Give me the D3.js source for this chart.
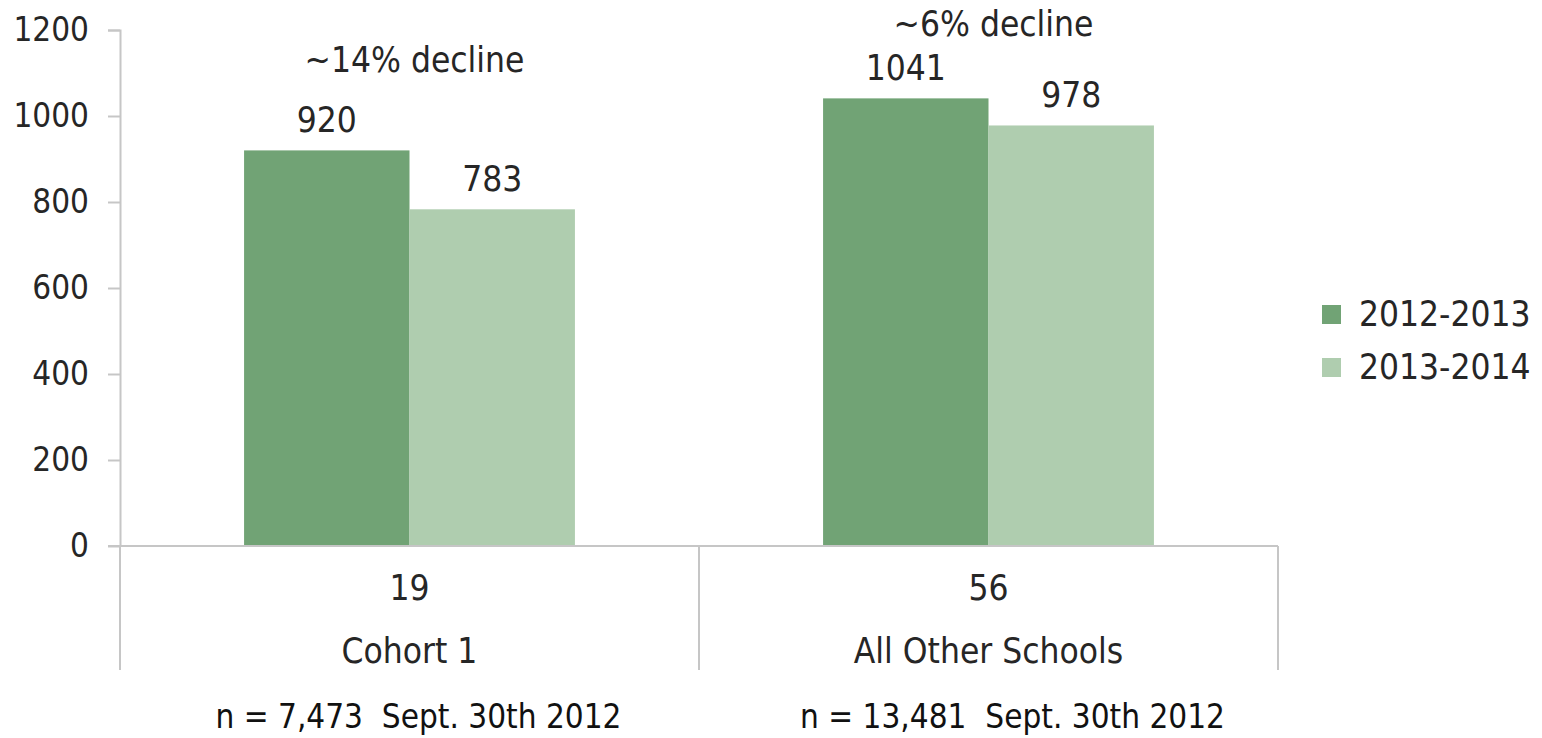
<!DOCTYPE html>
<html>
<head>
<meta charset="utf-8">
<script src="https://cdn.jsdelivr.net/npm/d3@7"></script>
<style>
	body { margin: 0; background: #fff; }
	svg { display: block; }
	.axis path, .axis line { stroke: #c6c6c6; stroke-width: 2; }
	.axis text { font-family: "DejaVu Sans Condensed", "DejaVu Sans", sans-serif; font-size: 33px; fill: #262626; }
	.lbl { font-family: "DejaVu Sans Condensed", "DejaVu Sans", sans-serif; font-size: 35px; fill: #262626; }
	.note { font-family: "DejaVu Sans Condensed", "DejaVu Sans", sans-serif; font-size: 33px; fill: #111; }
</style>
</head>
<body>
<div id="chart"></div>
<script>
const groups = ["Cohort 1", "All Other Schools"];
const groupCounts = ["19", "56"];
const groupNotes = ["n = 7,473  Sept. 30th 2012", "n = 13,481  Sept. 30th 2012"];
const series = ["2012-2013", "2013-2014"];
const values2012 = [920, 1041];
const values2013 = [783, 978];
const annotations = ["~14% decline", "~6% decline"];
const yTicks = [0, 200, 400, 600, 800, 1000, 1200];
const colors = ["#71a375", "#afcdaf"];

const margin = {top: 30, right: 264, bottom: 192, left: 120},
	width = 1542 - margin.left - margin.right,
	height = 738 - margin.top - margin.bottom;

const data = groups.map((g, i) => ({
	group: g,
	count: groupCounts[i],
	note: groupNotes[i],
	note2: annotations[i],
	values: [values2012[i], values2013[i]]
}));

const svg = d3.select("#chart")
	.append("svg")
	.attr("width", width + margin.left + margin.right)
	.attr("height", height + margin.top + margin.bottom)
	.append("g")
	.attr("transform", "translate(" + margin.left + "," + margin.top + ")");

const x0 = d3.scaleBand()
	.domain(groups)
	.range([0, width]);

const x1 = d3.scaleBand()
	.domain(series)
	.range([0, x0.bandwidth()])
	.paddingOuter(0.75);

const y = d3.scaleLinear()
	.domain([0, 1200])
	.range([height, 0]);

const yAxis = d3.axisLeft(y)
	.tickValues(yTicks)
	.tickFormat(d3.format("d"))
	.tickSize(12)
	.tickPadding(19);

svg.append("g")
	.attr("class", "axis")
	.call(yAxis)
	.call(g => g.select(".domain").attr("d", "M-12,0.5H0.5V" + height));

// bars
const grp = svg.selectAll(".grp")
	.data(data)
	.enter().append("g")
	.attr("class", "grp")
	.attr("transform", d => "translate(" + x0(d.group) + ",0)");

grp.selectAll("rect")
	.data(d => d.values.map((v, i) => ({s: series[i], v: v, i: i})))
	.enter().append("rect")
	.attr("x", d => x1(d.s))
	.attr("y", d => y(d.v))
	.attr("width", x1.bandwidth())
	.attr("height", d => height - y(d.v))
	.style("fill", d => colors[d.i]);

grp.selectAll(".val")
	.data(d => d.values.map((v, i) => ({s: series[i], v: v})))
	.enter().append("text")
	.attr("class", "lbl")
	.attr("x", d => x1(d.s) + x1.bandwidth() / 2)
	.attr("y", d => y(d.v) - 18)
	.attr("text-anchor", "middle")
	.text(d => d.v);

// x baseline + group separators
svg.append("line")
	.attr("x1", -12).attr("x2", width)
	.attr("y1", height).attr("y2", height)
	.style("stroke", "#c6c6c6").style("stroke-width", 2);

svg.selectAll(".sep")
	.data([0].concat(groups.map(g => x0(g) + x0.bandwidth())))
	.enter().append("line")
	.attr("x1", d => d).attr("x2", d => d)
	.attr("y1", height).attr("y2", height + 124)
	.style("stroke", "#c6c6c6").style("stroke-width", 2);

grp.append("text")
	.attr("class", "lbl")
	.attr("x", x0.bandwidth() / 2)
	.attr("y", height + 54)
	.attr("text-anchor", "middle")
	.text(d => d.count);

grp.append("text")
	.attr("class", "lbl")
	.attr("x", x0.bandwidth() / 2)
	.attr("y", height + 117)
	.attr("text-anchor", "middle")
	.text(d => d.group);

const noteDx = [9, 24];
grp.append("text")
	.attr("class", "note")
	.attr("x", (d, i) => x0.bandwidth() / 2 + noteDx[i])
	.attr("y", height + 182)
	.attr("text-anchor", "middle")
	.style("white-space", "pre")
	.text(d => d.note);

// decline annotations
const annY = [42, 6];
grp.append("text")
	.attr("class", "lbl")
	.attr("x", x0.bandwidth() / 2 + 5)
	.attr("y", (d, i) => annY[i])
	.attr("text-anchor", "middle")
	.text(d => d.note2);

// legend
const legend = svg.selectAll(".legend")
	.data(series)
	.enter().append("g")
	.attr("class", "legend")
	.attr("transform", (d, i) => "translate(" + (width + 44) + "," + (275 + i * 53) + ")");

legend.append("rect")
	.attr("width", 19)
	.attr("height", 19)
	.style("fill", (d, i) => colors[i]);

legend.append("text")
	.attr("class", "lbl")
	.attr("x", 37)
	.attr("y", 21)
	.text(String);
</script>
</body>
</html>
